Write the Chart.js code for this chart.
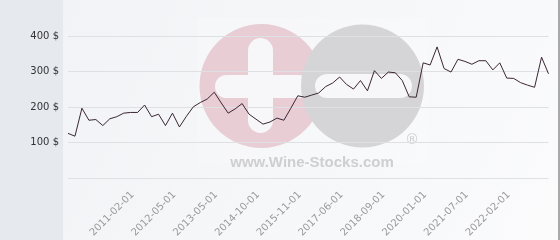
<!DOCTYPE html>
<html>
<head>
<meta charset="utf-8">
<script src="https://cdn.jsdelivr.net/npm/chart.js@4.4.0/dist/chart.umd.min.js"></script>
<style>
  body { margin: 0; background: #fff; }
  canvas { display: block; }
</style>
</head>
<body>
<canvas id="priceChart" width="560" height="240"></canvas>
<script>
// dates of each price point (category axis, not evenly spaced in time)
const dates = [
  '2009-03-01', '2009-06-01', '2009-09-01', '2009-12-01', '2010-03-01', '2010-06-01', '2010-09-01', '2010-11-01',
  '2011-02-01', '2011-05-01', '2011-08-01', '2011-10-01', '2011-12-01', '2012-02-01',
  '2012-05-01', '2012-07-01', '2012-09-01', '2012-11-01', '2013-01-01', '2013-03-01',
  '2013-05-01', '2013-08-01', '2013-11-01', '2014-02-01', '2014-05-01', '2014-07-01',
  '2014-10-01', '2014-12-01', '2015-02-01', '2015-04-01', '2015-06-01', '2015-09-01',
  '2015-11-01', '2016-02-01', '2016-05-01', '2016-08-01', '2016-11-01', '2017-03-01',
  '2017-06-01', '2017-09-01', '2017-11-01', '2018-01-01', '2018-04-01', '2018-06-01',
  '2018-09-01', '2018-12-01', '2019-02-01', '2019-05-01', '2019-08-01', '2019-10-01',
  '2020-01-01', '2020-04-01', '2020-07-01', '2020-10-01', '2021-01-01', '2021-04-01',
  '2021-07-01', '2021-08-01', '2021-09-01', '2021-10-01', '2021-11-01', '2021-12-01',
  '2022-02-01', '2022-03-01', '2022-04-01', '2022-05-01', '2022-06-01', '2022-07-01',
  '2022-08-01', '2022-09-01'
];

// price in $
const prices = [
  126, 118, 197, 163, 165, 148, 167, 173,
  183, 185, 185, 206, 173, 180,
  148, 183, 144, 174, 201, 213,
  223, 242, 212, 183, 195, 210,
  180, 166, 152, 158, 169, 163,
  197, 232, 228, 234, 240, 258,
  268, 285, 264, 251, 275, 246,
  303, 281, 299, 297, 275, 229,
  228, 325, 319, 370, 309, 299,
  335, 329, 321, 331, 331, 305,
  325, 282, 281, 269, 262, 256,
  341, 294
];

// which labels get shown on the x axis
const firstLabel = 8;
const lastLabel = 62;
const labelEvery = 6;

const yMax = 460;
const yStep = 100;

function roundBar(c, x, y, w, h) {
  const r = Math.min(w, h) / 2;
  c.beginPath();
  c.roundRect(x, y, w, h, r);
  c.fill();
}

// page background, left panel and the wine-stocks watermark
const backdrop = {
  id: 'backdrop',
  beforeDraw(chart) {
    const c = chart.ctx;
    c.save();
    const g = c.createLinearGradient(60, 0, 560, 240);
    g.addColorStop(0, '#f1f3f6');
    g.addColorStop(1, '#fbfbfc');
    c.fillStyle = g;
    c.fillRect(0, 0, 560, 240);
    c.fillStyle = '#e6eaee';
    c.fillRect(0, 0, 63, 240);
    c.fillStyle = '#a9a9ab';
    c.fillRect(558, 0, 2, 240);

    // watermark
    c.fillStyle = 'rgba(255,255,255,0.2)';
    c.fillRect(197, 18, 230, 145);
    c.fillStyle = '#e8cdd5';
    c.beginPath(); c.arc(261.5, 86, 62, 0, Math.PI * 2); c.fill();
    c.fillStyle = '#f7f7f9';
    roundBar(c, 248, 38, 25, 95);
    roundBar(c, 215, 75, 95, 23);
    c.fillStyle = '#d5d5d8';
    c.beginPath(); c.arc(362.5, 86, 61.5, 0, Math.PI * 2); c.fill();
    c.fillStyle = '#f7f7f9';
    roundBar(c, 315, 74, 97, 24);
    c.fillStyle = '#cfcfd2';
    c.font = 'bold 15px "Liberation Sans", Arial, sans-serif';
    c.textAlign = 'center';
    c.textBaseline = 'alphabetic';
    c.fillText('www.Wine-Stocks.com', 312, 167);
    c.font = '14px "DejaVu Sans", sans-serif';
    c.fillText('\u00ae', 412, 144);
    c.restore();
  }
};

const ctx = document.getElementById('priceChart');
new Chart(ctx, {
  type: 'line',
  data: {
    labels: dates,
    datasets: [{
      data: prices,
      borderColor: '#3a2632',
      borderWidth: 1,
      pointRadius: 0,
      tension: 0,
      fill: false
    }]
  },
  options: {
    responsive: false,
    animation: false,
    layout: { padding: { top: 0, right: 5, left: 0, bottom: 0 } },
    plugins: { legend: { display: false }, tooltip: { enabled: false } },
    scales: {
      x: {
        grid: { display: false },
        border: { display: false },
        afterFit(scale) { scale.height = 62; },
        ticks: {
          autoSkip: false,
          minRotation: 45,
          maxRotation: 45,
          padding: 3,
          labelOffset: 9,
          color: '#9a9a9a',
          font: { family: '"DejaVu Sans"', size: 10 },
          callback(value, index) {
            if (index >= firstLabel && index <= lastLabel && (index - firstLabel) % labelEvery === 0) {
              return dates[index];
            }
            return '';
          }
        }
      },
      y: {
        min: 0,
        max: yMax,
        afterFit(scale) { scale.width = 68; },
        grid: { color: '#dfe0e3', drawTicks: false },
        border: { display: false },
        ticks: {
          stepSize: yStep,
          includeBounds: false,
          padding: 9,
          color: '#333',
          font: { family: '"DejaVu Sans"', size: 10 },
          callback(v) { return v === 0 ? '' : v + ' $'; }
        }
      }
    }
  },
  plugins: [backdrop]
});
</script>
</body>
</html>
